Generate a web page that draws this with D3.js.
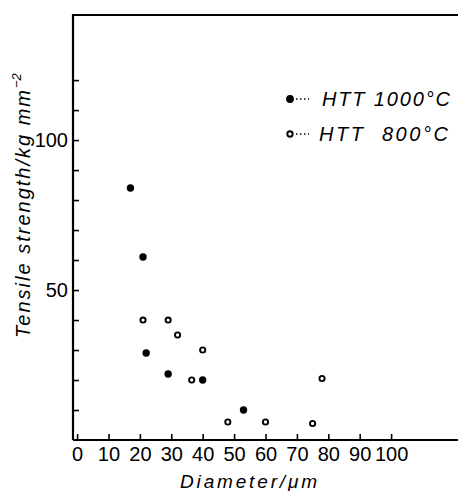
<!DOCTYPE html>
<html><head><meta charset="utf-8">
<script src="https://cdn.jsdelivr.net/npm/d3@7"></script>
<style>
body{margin:0;background:#fff;}
svg{display:block;}
text{fill:#000;}
</style></head>
<body><svg id="c" width="458" height="491"></svg>
<script>
// Data
const htt1000 = [
  {d:17, s:84}, {d:21, s:61}, {d:22, s:29}, {d:29, s:22}, {d:40, s:20}, {d:53, s:10}
];
const htt800 = [
  {d:21, s:40}, {d:29, s:40}, {d:32, s:35}, {d:40, s:30}, {d:36.5, s:20},
  {d:78, s:20.5}, {d:48, s:6}, {d:60, s:6}, {d:75, s:5.5}
];
const xTickValues = [0,10,20,30,40,50,60,70,80,90,100];
const yTickValues = [10,20,30,40,50,60,70,80,90,100,110,120];
const yTickLabels = {50:"50", 100:"100"};
const legendLabels = ["HTT 1000°C", "HTT  800°C"];
const xTitle = "Diameter/\u03BCm";
const yTitle = "Tensile strength/kg mm";

const svg = d3.select("#c");
const pLeft = 73, pRight = 458, pTop = 15, pBottom = 440;
const x = d3.scaleLinear().domain([-1.3, 121.3]).range([pLeft, pRight]);
const y = d3.scaleLinear().domain([0, 141.7]).range([pBottom, pTop]);

const font = "'Liberation Sans', Arial, sans-serif";
const numFont = "'Liberation Sans Narrow', 'Liberation Sans', Arial, sans-serif";

// frame: left and top lines
svg.append("path")
  .attr("d", `M${pLeft},${pBottom}V${pTop}H${pRight}`)
  .attr("fill","none").attr("stroke","#000").attr("stroke-width",2.2);
svg.append("line").attr("x1",pLeft).attr("x2",pRight).attr("y1",pBottom).attr("y2",pBottom)
  .attr("stroke","#000").attr("stroke-width",2);

// x axis
const xAxis = d3.axisBottom(x).tickValues(xTickValues).tickSizeInner(-6).tickSizeOuter(0);
const gx = svg.append("g").attr("transform",`translate(0,${pBottom})`).call(xAxis);
gx.select(".domain").remove();
gx.selectAll(".tick line").attr("stroke","#000").attr("stroke-width",1.6);
gx.selectAll(".tick text").attr("font-family",numFont).attr("font-size",20).attr("fill","#000")
  .attr("dy","0.71em").attr("y",7);

// y axis
const yAxis = d3.axisLeft(y).tickValues(yTickValues).tickSizeInner(-6).tickSizeOuter(0)
  .tickFormat(d => yTickLabels[d] || "");
const gy = svg.append("g").attr("transform",`translate(${pLeft},0)`).call(yAxis);
gy.select(".domain").remove();
gy.selectAll(".tick line").attr("stroke","#000").attr("stroke-width",1.6);
gy.selectAll(".tick text").attr("font-family",numFont).attr("font-size",20).attr("fill","#000")
  .attr("x",-5);

// points
svg.append("g").selectAll("circle").data(htt1000).join("circle")
  .attr("cx",d=>x(d.d)).attr("cy",d=>y(d.s)).attr("r",3.7).attr("fill","#000");
svg.append("g").selectAll("circle").data(htt800).join("circle")
  .attr("cx",d=>x(d.d)).attr("cy",d=>y(d.s)).attr("r",2.6)
  .attr("fill","#fff").attr("stroke","#000").attr("stroke-width",1.9);

// legend
const lg = svg.append("g");
const rows = [{y:99, filled:true, tx:322, tl:128}, {y:134, filled:false, tx:319, tl:129}];
rows.forEach((r,i)=>{
  if (r.filled) lg.append("circle").attr("cx",290).attr("cy",r.y).attr("r",3.9).attr("fill","#000");
  else lg.append("circle").attr("cx",290).attr("cy",r.y).attr("r",2.7).attr("fill","#fff").attr("stroke","#000").attr("stroke-width",1.9);
  lg.append("line").attr("x1",296).attr("x2",309).attr("y1",r.y).attr("y2",r.y)
    .attr("stroke","#000").attr("stroke-width",1.5).attr("stroke-dasharray","1.5,2.5");
  lg.append("text").attr("x",r.tx).attr("y",r.y+7)
    .attr("font-family",font).attr("font-style","italic").attr("font-size",20)
    .attr("textLength",r.tl).attr("lengthAdjust","spacing")
    .style("white-space","pre").text(legendLabels[i]);
});

// x title
svg.append("text").attr("x",180).attr("y",488)
  .attr("font-family",font).attr("font-style","italic").attr("font-size",19)
  .attr("textLength",137).attr("lengthAdjust","spacing").text(xTitle);

// y title
const yt = svg.append("text").attr("transform","translate(30,338) rotate(-90)")
  .attr("font-family",font).attr("font-style","italic").attr("font-size",20);
yt.append("tspan").attr("textLength",248).attr("lengthAdjust","spacing").text(yTitle);
yt.append("tspan").attr("dy",-9).attr("font-size",13).text("\u22122");
</script></body></html>
